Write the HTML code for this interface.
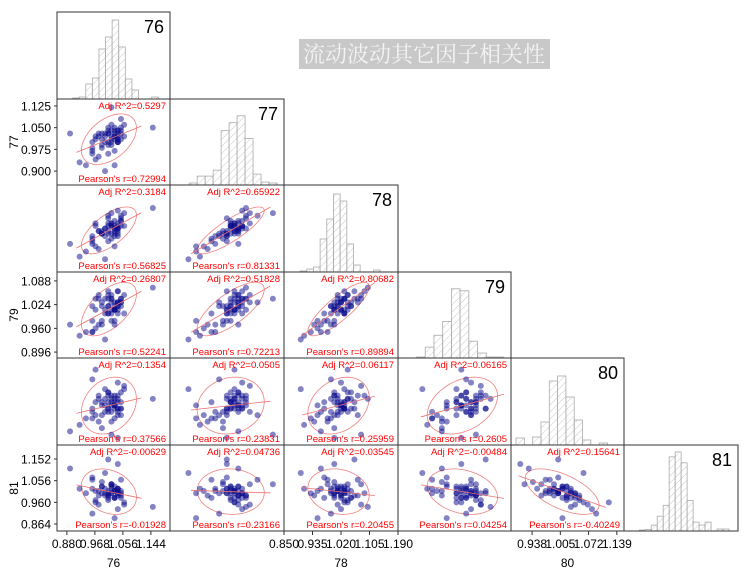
<!DOCTYPE html>
<html><head><meta charset="utf-8">
<style>
html,body{margin:0;padding:0;background:#fff;}
svg{display:block;font-family:"Liberation Sans",sans-serif;}
</style></head>
<body>
<svg id="chart" width="744" height="573" viewBox="0 0 744 573" xmlns="http://www.w3.org/2000/svg">
<defs>
<pattern id="hatch" patternUnits="userSpaceOnUse" width="5" height="5" patternTransform="rotate(45)">
<line x1="0" y1="0" x2="0" y2="5" stroke="#bbb" stroke-width="0.8"/>
</pattern>
</defs>
<g>
<rect x="299" y="39" width="251" height="30" fill="#c8c8c8"/>
<text x="424" y="62" text-anchor="middle" font-size="22" fill="#f4f4f4" style="font-family:'Liberation Serif','Noto Serif CJK SC',serif">流动波动其它因子相关性</text>
</g>
<g id="plot"></g>
</svg>
<script>
// ---- data ----
const varNames = ['76','77','78','79','80','81'];
const v76 = [1.04,0.96,1.03,0.97,1.01,1.02,1.05,0.94,1.06,0.99,0.99,1.04,1.01,1.01,1.04,0.96,1.06,0.99,1.03,0.98,1.05,0.98,1.02,0.92,1.04,0.96,1.04,1.03,0.97,1.15,0.89,1.03,1.02,0.97,1.00,1.04,0.96,1.05,0.98,1.01,
 1.03,1.01,1.04,1.00,1.02,1.05,0.99,1.03,1.02,1.04,1.01,1.03,1.00,1.02,1.04,1.01,1.03,1.02,1.05,1.00];
const v77 = [1.01,0.97,1.04,0.94,1.03,0.99,1.05,0.92,1.02,1.03,0.99,1.02,1.05,0.96,1.00,0.96,1.06,0.98,1.03,0.95,1.01,1.02,1.06,0.93,1.04,1.00,1.04,0.97,1.01,1.05,1.03,0.92,1.12,1.02,0.90,1.00,0.98,1.08,1.03,1.00,
 1.02,1.04,1.01,1.03,1.00,1.03,1.01,1.05,1.02,1.00,1.03,1.01,1.00,1.04,1.03,0.99,1.02,1.01,1.04,1.02];
const v78 = [1.02,0.96,1.05,0.95,1.04,0.98,1.06,0.93,1.03,1.01,1.00,1.03,1.07,0.97,0.99,0.98,1.08,1.00,1.02,0.94,1.05,1.01,1.04,0.91,1.02,0.97,1.09,0.99,1.03,1.10,0.96,0.95,1.08,1.04,0.90,1.00,0.99,1.07,1.01,1.06,
 1.01,1.03,1.04,1.02,1.00,1.05,1.00,1.02,1.04,1.01,1.00,1.03,0.99,1.03,1.02,1.01,1.00,1.03,1.03,1.02];
const v79 = [1.03,0.95,1.02,0.96,1.05,0.98,1.04,0.95,1.00,1.02,0.97,1.06,1.04,1.00,1.02,0.95,1.05,1.03,1.01,0.97,1.02,1.04,1.03,0.94,1.03,0.98,1.06,0.97,1.04,1.07,0.97,0.98,1.04,1.01,0.93,1.01,1.02,1.03,1.05,1.06,
 1.03,1.00,1.02,1.04,1.01,1.03,0.98,1.01,1.05,1.00,1.02,1.01,1.00,1.04,1.03,1.02,1.01,1.00,1.04,1.01];
const v80 = [1.00,0.99,1.03,0.98,1.05,0.96,1.02,0.97,1.06,1.01,0.94,1.00,1.04,1.02,0.99,0.97,1.07,0.98,1.01,0.96,1.05,1.03,0.99,0.95,1.08,1.00,1.04,0.97,1.02,1.03,0.93,1.01,0.92,1.12,1.06,0.91,1.09,0.98,1.04,1.00,
 1.02,1.00,1.03,0.99,1.04,1.00,1.02,1.01,1.03,0.98,1.05,1.00,1.03,1.01,1.02,0.99,1.04,1.02,1.00,1.01];
const v81 = [1.00,1.02,0.98,1.01,0.97,1.04,0.99,1.00,0.96,1.03,1.05,1.01,0.99,0.98,1.02,1.06,0.95,1.00,1.03,0.99,0.98,1.01,1.04,1.02,0.93,1.07,1.00,1.01,0.97,0.94,1.11,0.89,1.04,0.96,1.09,1.13,0.91,1.06,0.95,1.15,
 1.01,1.00,1.02,0.99,1.00,1.01,1.03,0.98,1.00,1.02,0.99,1.01,1.00,1.02,0.99,1.01,0.98,1.03,1.00,1.02];
const series = [v76,v77,v78,v79,v80,v81];
const ranges = [[0.849,1.204],[0.852,1.149],[0.85,1.19],[0.88,1.112],[0.888,1.156],[0.833,1.214]];
// histogram bins: start, width, counts
const histStart = [0.898,0.902,0.898,0.918,0.900,0.884];
const histWidth = [0.0207,0.0208,0.0199,0.0179,0.0197,0.020];
const hist76 = [1,2,15,21,50,62,79,52,20,9,0,0,2];
const hist77 = [2,9,9,15,55,63,70,47,11,3,2];
const hist78 = [1,3,5,33,53,78,71,28,7,0,0,2];
const hist79 = [1,11,23,37,70,68,17,5,1,1];
const hist80 = [7,0,8,23,64,69,48,25,5,0,2];
const hist81 = [1,1.5,6,15,26,75,80,69,31,9,6,9,0,2,2];
const hists = [hist76,hist77,hist78,hist79,hist80,hist81];
// printed stats per pair, order: (1,0),(2,0),(2,1),(3,0),(3,1),(3,2),(4,0)...(5,4)
const adjR2 = ['0.5297','0.3184','0.65922','0.26807','0.51828','0.80682','0.1354','0.0505','0.06117','0.06165','-0.00629','0.04736','0.03545','-0.00484','0.15641'];
const pearsonR = ['0.72994','0.56825','0.81331','0.52241','0.72213','0.89894','0.37566','0.23831','0.25959','0.2605','-0.01928','0.23166','0.20455','0.04254','-0.40249'];
// tick labels
const yTickRows = [1,3,5];
const yTicks = [[0.900,0.975,1.050,1.125],[0.896,0.960,1.024,1.088],[0.864,0.960,1.056,1.152]];
const xTickCols = [0,2,4];
const xTicks = [[0.880,0.968,1.056,1.144],[0.850,0.935,1.020,1.105,1.190],[0.938,1.005,1.072,1.139]];

// ---- layout ----
const colX = [57,170,284,398,511,624,738];
const rowY = [12,99,185,272,358,445,531];
const NS = 'http://www.w3.org/2000/svg';
const root = document.getElementById('plot');
function mk(tag, attrs, parent){
  const e = document.createElementNS(NS, tag);
  for (const k in attrs) e.setAttribute(k, attrs[k]);
  (parent||root).appendChild(e);
  return e;
}
function xs(v, c){ const r = ranges[c]; return colX[c] + (v - r[0])/(r[1]-r[0])*(colX[c+1]-colX[c]); }
function ys(v, r){ const g = ranges[r]; return rowY[r+1] - (v - g[0])/(g[1]-g[0])*(rowY[r+1]-rowY[r]); }
function mean(a){ return a.reduce((s,v)=>s+v,0)/a.length; }
function sd(a){ const m=mean(a); return Math.sqrt(a.reduce((s,v)=>s+(v-m)*(v-m),0)/(a.length-1)); }
function corr(a,b){ const ma=mean(a), mb=mean(b); let s=0; for(let i=0;i<a.length;i++) s+=(a[i]-ma)*(b[i]-mb); return s/(a.length-1)/sd(a)/sd(b); }

let pairIdx = 0;
for (let r = 0; r < 6; r++) {
  for (let c = 0; c <= r; c++) {
    const x0 = colX[c], x1 = colX[c+1], y0 = rowY[r], y1 = rowY[r+1];
    const cell = mk('g', {});
    
    
    const cid = 'clip'+r+'_'+c;
    const cp = mk('clipPath', {id: cid}, cell);
    mk('rect', {x:x0, y:y0, width:x1-x0, height:y1-y0}, cp);
    const inner = mk('g', {'clip-path':'url(#'+cid+')'}, cell);
    if (r === c) {
      const h = hists[r];
      for (let i = 0; i < h.length; i++) {
        if (h[i] <= 0) continue;
        const bx0 = xs(histStart[r] + i*histWidth[r], c);
        const bx1 = xs(histStart[r] + (i+1)*histWidth[r], c);
        const bh = h[i] * (y1-y0) / 87;
        const b = mk('rect', {x:bx0, y:y1-bh, width:bx1-bx0, height:bh, fill:'url(#hatch)', stroke:'#aaa', 'stroke-width':0.8}, inner);
        
        
      }
      const lab = mk('text', {x:x1-6, y:y0+21, 'text-anchor':'end', 'font-size':18, fill:'#000'}, cell);
      lab.textContent = varNames[r];
      
      
    } else {
      const xa = series[c], ya = series[r];
      const mx = mean(xa), my = mean(ya), sx = sd(xa), sy = sd(ya), rr = corr(xa, ya);
      const k = 2.2, d = Math.acos(Math.max(-0.999, Math.min(0.999, rr)));
      let pts = [];
      for (let t = 0; t <= 64; t++) {
        const a = t/64*2*Math.PI;
        pts.push(xs(mx + k*sx*Math.cos(a), c).toFixed(1)+','+ys(my + k*sy*Math.cos(a - d), r).toFixed(1));
      }
      const el = mk('polyline', {points: pts.join(' '), fill:'none', stroke:'#f08080', 'stroke-width':0.8}, inner);
      
      
      for (let i = 0; i < xa.length; i++) {
        const p = mk('circle', {cx: xs(xa[i], c), cy: ys(ya[i], r), r: 3, fill:'rgba(10,10,140,0.5)'}, inner);
        
        
      }
      const slope = rr*sy/sx;
      const lx0 = mx - 2.6*sx, lx1 = mx + 2.6*sx;
      const ln = mk('line', {x1: xs(lx0,c), y1: ys(my + slope*(lx0-mx), r), x2: xs(lx1,c), y2: ys(my + slope*(lx1-mx), r), stroke:'#f07070', 'stroke-width':0.8}, inner);
      
      
      const t1 = mk('text', {x:x1-4, y:y0+10, 'text-anchor':'end', 'font-size':9.5, fill:'#f00'}, cell);
      t1.textContent = 'Adj R^2=' + adjR2[pairIdx];
      
      
      const t2 = mk('text', {x:x1-4, y:y1-3, 'text-anchor':'end', 'font-size':9.5, fill:'#f00'}, cell);
      t2.textContent = "Pearson's r=" + pearsonR[pairIdx];
      
      
      pairIdx++;
    }
    const box = mk('rect', {x:x0, y:y0, width:x1-x0, height:y1-y0, fill:'none', stroke:'#333', 'stroke-width':1}, cell);
    
    
  }
}
// y axes
for (let i = 0; i < yTickRows.length; i++) {
  const r = yTickRows[i];
  const ax = mk('g', {});
  
  
  for (const v of yTicks[i]) {
    const y = ys(v, r);
    mk('line', {x1:54, x2:57, y1:y, y2:y, stroke:'#333'}, ax);
    const t = mk('text', {x:51, y:y+4.5, 'text-anchor':'end', 'font-size':12, fill:'#000'}, ax);
    t.textContent = v.toFixed(3);
    
    
  }
  const yc = (rowY[r]+rowY[r+1])/2;
  const tt = mk('text', {x:18, y:yc, 'text-anchor':'middle', 'font-size':12, fill:'#000', transform:'rotate(-90 18 '+yc+')'}, ax);
  tt.textContent = varNames[r];
  
  
}
// x axes
for (let i = 0; i < xTickCols.length; i++) {
  const c = xTickCols[i];
  const ax = mk('g', {});
  
  
  for (const v of xTicks[i]) {
    const x = xs(v, c);
    mk('line', {x1:x, x2:x, y1:531, y2:535, stroke:'#333'}, ax);
    const t = mk('text', {x:x, y:548, 'text-anchor':'middle', 'font-size':12, fill:'#000'}, ax);
    t.textContent = v.toFixed(3);
    
    
  }
  const tt = mk('text', {x:(colX[c]+colX[c+1])/2, y:567, 'text-anchor':'middle', 'font-size':12, fill:'#000'}, ax);
  tt.textContent = varNames[c];
  
  
}
</script>
</body></html>
